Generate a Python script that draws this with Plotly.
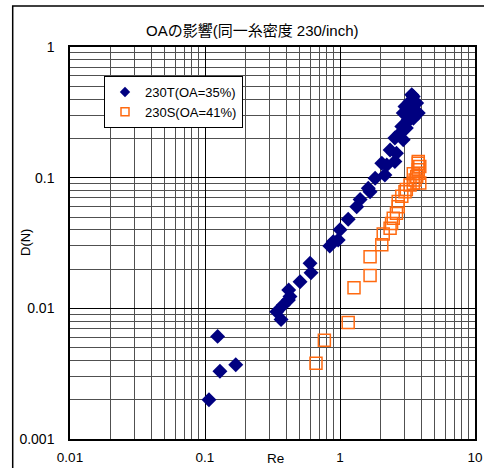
import plotly.graph_objects as go

# Reynolds number vs. D(N) for two fabrics of the same thread density
re_230t = [0.107, 0.124, 0.129, 0.169, 0.34, 0.366, 0.38, 0.415, 0.426, 0.417,
           0.506, 0.60, 0.61, 0.84, 0.892, 0.97, 1.0, 1.15, 1.33, 1.41,
           1.62, 1.67, 1.82, 2.15, 2.04, 2.22, 2.55, 2.35, 2.62, 2.55,
           2.94, 2.78, 2.87, 3.1, 3.1, 3.2, 3.5, 2.94, 3.8, 3.3,
           3.03, 3.7, 3.3, 3.49, 3.4]
d_230t = [0.0020, 0.0061, 0.0033, 0.0037, 0.0094, 0.0082, 0.0106, 0.0116, 0.0123, 0.0138,
          0.016, 0.0221, 0.0187, 0.030, 0.0324, 0.0334, 0.040, 0.048, 0.060, 0.068,
          0.083, 0.078, 0.099, 0.105, 0.129, 0.125, 0.133, 0.163, 0.154, 0.201,
          0.195, 0.219, 0.246, 0.24, 0.262, 0.277, 0.285, 0.312, 0.312, 0.33,
          0.35, 0.372, 0.383, 0.418, 0.431]

re_230s = [0.664, 0.766, 1.15, 1.27, 1.67, 1.67, 2.04, 2.09, 2.35, 2.41,
           2.48, 2.62, 2.70, 2.70, 2.87, 3.03, 3.1, 3.3, 3.49, 3.6,
           3.9, 3.7, 3.49, 3.8, 3.8, 3.9, 3.8, 3.8]
d_230s = [0.0038, 0.0057, 0.0078, 0.0144, 0.0178, 0.0248, 0.0306, 0.0371, 0.041, 0.0446,
          0.049, 0.0535, 0.060, 0.0657, 0.072, 0.078, 0.081, 0.088, 0.0907, 0.096,
          0.091, 0.102, 0.107, 0.108, 0.115, 0.122, 0.129, 0.133]

x_tick_vals = [0.01, 0.1, 1, 10]
x_tick_text = ["0.01", "0.1", "1", "10"]
y_tick_vals = [0.001, 0.01, 0.1, 1]
y_tick_text = ["0.001", "0.01", "0.1", "1"]

title_text = "OAの影響(同一糸密度 230/inch)"
name_t = "230T(OA=35%)"
name_s = "230S(OA=41%)"

jp_font = "Liberation Sans, Noto Sans CJK JP"
num_font = "Liberation Sans"

navy = "#000080"
orange = "#FF6A10"

fig = go.Figure()
fig.add_trace(go.Scatter(
    x=re_230t, y=d_230t, mode="markers", name=name_t, showlegend=False,
    marker=dict(symbol="diamond", size=11.5, color=navy, line=dict(width=0)),
))
fig.add_trace(go.Scatter(
    x=re_230s, y=d_230s, mode="markers", name=name_s, showlegend=False,
    marker=dict(symbol="square-open", size=12, color=orange,
                line=dict(width=1.5, color=orange)),
))
# legend entries with smaller key symbols
fig.add_trace(go.Scatter(
    x=[None], y=[None], mode="markers", name=name_t,
    marker=dict(symbol="diamond", size=8, color=navy, line=dict(width=0)),
))
fig.add_trace(go.Scatter(
    x=[None], y=[None], mode="markers", name=name_s,
    marker=dict(symbol="square-open", size=8, color=orange,
                line=dict(width=1.5, color=orange)),
))

axis_common = dict(
    type="log", showline=True, mirror=True, linecolor="black", linewidth=1.5,
    showgrid=True, gridcolor="black", gridwidth=1, ticks="", zeroline=False,
    automargin=False,
    minor=dict(showgrid=True, dtick="D1", gridcolor="#505050", gridwidth=1, ticks=""),
)

fig.update_xaxes(range=[-2, 1], tickvals=x_tick_vals, ticktext=x_tick_text,
                 ticklabelstandoff=5,
                 tickfont=dict(family=num_font, size=13.5, color="black"),
                 **axis_common)
fig.update_yaxes(range=[-3, 0], tickvals=y_tick_vals, ticktext=y_tick_text,
                 ticklabelstandoff=11,
                 tickfont=dict(family=num_font, size=14, color="black"),
                 **axis_common)

fig.update_layout(
    width=484, height=468,
    margin=dict(l=70, r=9, t=47, b=29),
    paper_bgcolor="white", plot_bgcolor="white",
    showlegend=True,
    legend=dict(x=(104 - 70) / 405, y=0.926, xanchor="left", yanchor="top",
                bgcolor="white", bordercolor="black", borderwidth=1,
                font=dict(family=num_font, size=13, color="black"),
                tracegroupgap=0, itemwidth=30),
    annotations=[
        dict(text=title_text, xref="paper", yref="paper", x=(252 - 70) / 405,
             y=1.0 + 17 / 392, xanchor="center", yanchor="middle", showarrow=False,
             font=dict(family=jp_font, size=15, color="black")),
        dict(text="Re", xref="paper", yref="paper", x=(275 - 70) / 405,
             y=-19 / 392, xanchor="center", yanchor="middle", showarrow=False,
             font=dict(family=num_font, size=13.5, color="black")),
        dict(text="D(N)", xref="paper", yref="paper", x=(25 - 70) / 405,
             y=(439 - 243) / 392, xanchor="center", yanchor="middle", showarrow=False,
             textangle=-90, font=dict(family=num_font, size=13, color="black")),
    ],
    shapes=[
        dict(type="rect", xref="paper", yref="paper",
             x0=(12.7 - 70) / 405, x1=1.05, y0=-0.1, y1=(439 - 6) / 392,
             line=dict(color="black", width=1.5), layer="below"),
    ],
)

fig.write_html("out.html")
